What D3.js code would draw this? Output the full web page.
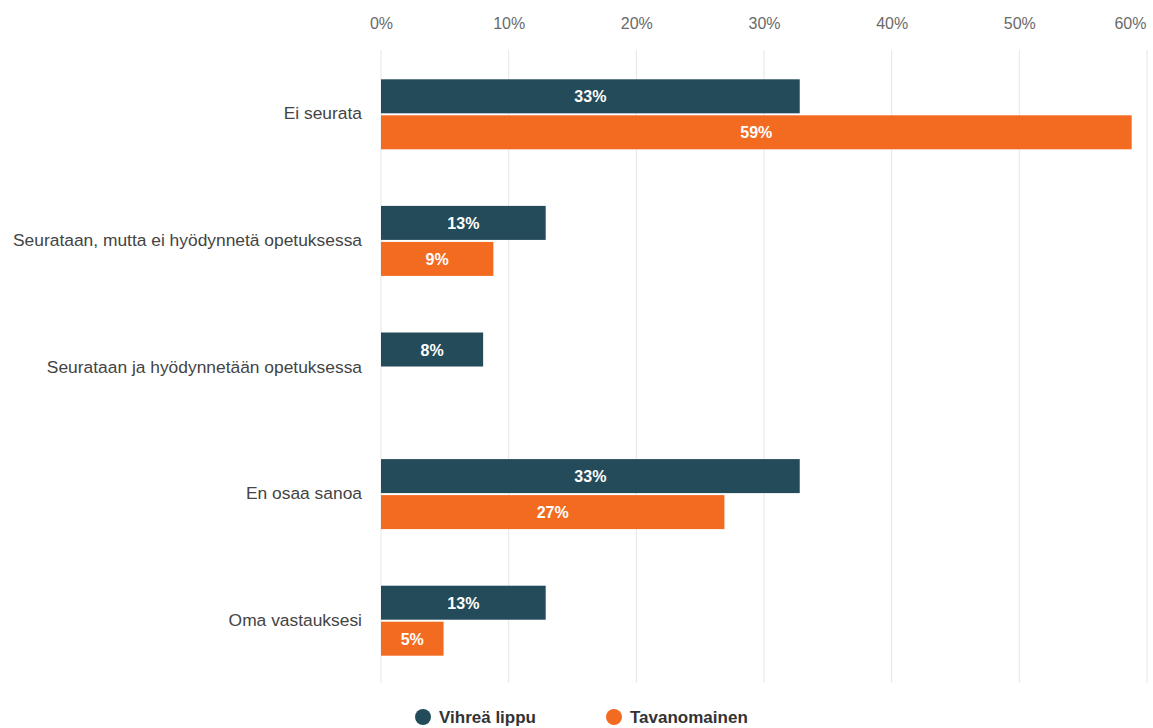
<!DOCTYPE html>
<html><head><meta charset="utf-8">
<script src="https://cdn.jsdelivr.net/npm/d3@7"></script>
<style>body{margin:0;background:#fff;font-family:"Liberation Sans",Arial,sans-serif}</style>
</head><body><svg id="c" width="1153" height="728"></svg>
<script>
const categories = ["Ei seurata","Seurataan, mutta ei hyödynnetä opetuksessa","Seurataan ja hyödynnetään opetuksessa","En osaa sanoa","Oma vastauksesi"];
const seriesNames = ["Vihreä lippu","Tavanomainen"];
const vihrea = [32.8, 12.9, 8.0, 32.8, 12.9];
const tavanomainen = [58.8, 8.8, 0, 26.9, 4.9];
const tickValues = [0,10,20,30,40,50,60];
const colors = ["#244b5a","#f26b21"];

const svg = d3.select("#c").style("font-family","Liberation Sans, Arial, sans-serif");
const x = d3.scaleLinear().domain([0,60]).range([381,1147]);
const y = d3.scaleBand().domain(categories).range([50,683]);
const inner = d3.scaleBand().domain(seriesNames).range([0,72]);

// grid
svg.append("g").selectAll("line").data(tickValues).join("line")
  .attr("x1",d=>x(d)).attr("x2",d=>x(d)).attr("y1",50).attr("y2",683)
  .attr("stroke","#e6e6e6").attr("stroke-width",1);

// top axis
const ax = svg.append("g").attr("transform","translate(0,29)")
  .call(d3.axisTop(x).tickValues(tickValues).tickFormat(d=>d+"%").tickSize(0).tickPadding(0));
ax.select(".domain").remove();
ax.selectAll("text").attr("fill","#6a6a6a").attr("dy",0)
  .style("font-size","16px").style("font-family","Liberation Sans, Arial, sans-serif")
  .attr("text-anchor",d=>d===60?"end":"middle")
  .attr("x",d=>d===60?-1:0);

// category labels
svg.append("g").selectAll("text").data(categories).join("text")
  .attr("x",362).attr("y",d=>y(d)+y.bandwidth()/2+6)
  .attr("text-anchor","end")
  .attr("fill","#444").style("font-size","17.4px").text(d=>d);

const rows = [];
categories.forEach((c,i)=>{
  [vihrea[i],tavanomainen[i]].forEach((v,j)=>rows.push({c,s:seriesNames[j],v,j}));
});
const bars = rows.filter(r=>r.v>0);
const top0 = d=>y(d.c)+y.bandwidth()/2-36+inner(d.s);

svg.append("g").selectAll("rect").data(bars).join("rect")
  .attr("x",x(0)).attr("y",d=>top0(d)+2).attr("width",d=>x(d.v)-x(0)).attr("height",34)
  .attr("fill",d=>colors[d.j]);

svg.append("g").selectAll("text").data(bars).join("text")
  .attr("x",d=>(x(0)+x(d.v))/2).attr("y",d=>top0(d)+25)
  .attr("text-anchor","middle")
  .attr("fill","#fff").style("font-size","16px").style("font-weight","bold")
  .text(d=>Math.round(d.v)+"%");

// legend
const lg = svg.append("g").selectAll("g").data(seriesNames).join("g")
  .attr("transform",(d,i)=>`translate(${[423,614][i]},717)`);
lg.append("circle").attr("r",8).attr("fill",(d,i)=>colors[i]);
lg.append("text").attr("x",16).attr("y",6)
  .attr("fill","#333").style("font-size","17px").style("font-weight","bold").text(d=>d);
</script></body></html>
